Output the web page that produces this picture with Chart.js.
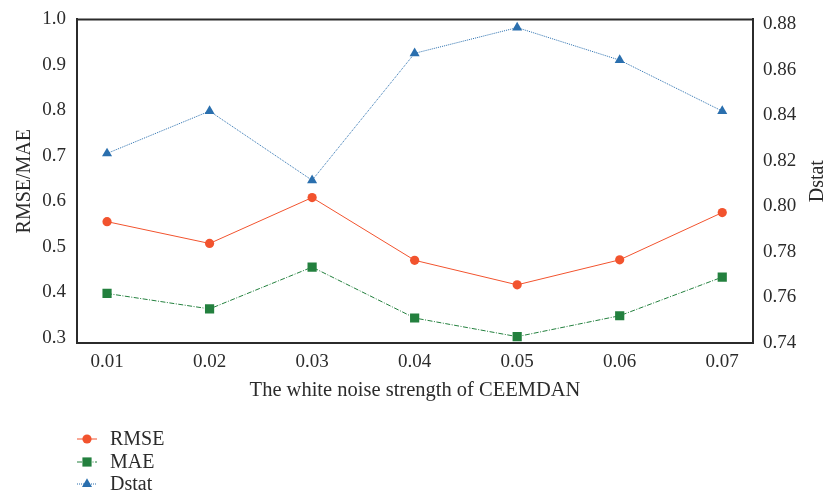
<!DOCTYPE html>
<html>
<head>
<meta charset="utf-8">
<script src="https://cdn.jsdelivr.net/npm/chart.js@4.4.0/dist/chart.umd.min.js"></script>
<style>
  html, body { margin: 0; padding: 0; background: #fff; }
  #wrap { width: 835px; height: 497px; position: relative; }
</style>
</head>
<body>
<div id="wrap"><canvas id="linechart"></canvas></div>
<script>
const noise = [0.01, 0.02, 0.03, 0.04, 0.05, 0.06, 0.07];
const rmse = [0.555, 0.507, 0.608, 0.470, 0.416, 0.471, 0.575];
const mae = [0.397, 0.363, 0.455, 0.343, 0.302, 0.348, 0.433];
const dstat = [0.8233, 0.8419, 0.8115, 0.8673, 0.8786, 0.8643, 0.8419];
const leftTicks = [0.3, 0.4, 0.5, 0.6, 0.7, 0.8, 0.9, 1.0];
const rightTicks = [0.74, 0.76, 0.78, 0.80, 0.82, 0.84, 0.86, 0.88];

const serif = "'Liberation Serif', 'DejaVu Serif', serif";
const ink = "#2b2b2b";

const pts = (ys) => ys.map((y, i) => ({ x: noise[i], y: y }));

// legend drawn as a vertical list under the x title
const stackLegend = {
  id: "stackLegend",
  afterDraw(chart) {
    const c = chart.ctx;
    const rows = [439, 462, 484];
    chart.data.datasets.forEach((ds, i) => {
      const y = rows[i];
      c.save();
      c.strokeStyle = ds.borderColor;
      c.lineWidth = 1;
      c.setLineDash(ds.borderDash || []);
      c.beginPath();
      c.moveTo(77, y);
      c.lineTo(97, y);
      c.stroke();
      c.setLineDash([]);
      c.fillStyle = ds.pointBackgroundColor;
      Chart.helpers.drawPoint(c, {
        pointStyle: ds.pointStyle,
        radius: ds.pointRadius,
        borderWidth: 0,
        rotation: 0,
      }, 87, y);
      c.fillStyle = ink;
      c.font = "20px " + serif;
      c.textBaseline = "middle";
      c.textAlign = "left";
      c.fillText(ds.label, 110, y + 1);
      c.restore();
    });
  },
};

// right axis title reads bottom-to-top like the left one
const rightTitle = {
  id: "rightTitle",
  afterDraw(chart) {
    const a = chart.chartArea;
    const c = chart.ctx;
    c.save();
    c.translate(818, (a.top + a.bottom) / 2);
    c.rotate(-Math.PI / 2);
    c.fillStyle = ink;
    c.font = "20px " + serif;
    c.textAlign = "center";
    c.textBaseline = "middle";
    c.fillText("Dstat", 0, 0);
    c.restore();
  },
};

const topEdge = {
  id: "topEdge",
  afterDraw(chart) {
    const a = chart.chartArea;
    const c = chart.ctx;
    c.save();
    c.strokeStyle = ink;
    c.lineWidth = 2;
    c.beginPath();
    c.moveTo(a.left - 1, a.top);
    c.lineTo(a.right + 1, a.top);
    c.stroke();
    c.restore();
  },
};

new Chart(document.getElementById("linechart"), {
  type: "line",
  data: {
    datasets: [
      {
        label: "RMSE",
        data: pts(rmse),
        yAxisID: "y",
        borderColor: "#f2532e",
        pointBackgroundColor: "#f2532e",
        pointBorderWidth: 0,
        borderWidth: 1,
        pointStyle: "circle",
        pointRadius: 4.6,
      },
      {
        label: "MAE",
        data: pts(mae),
        yAxisID: "y",
        borderColor: "#23803e",
        pointBackgroundColor: "#23803e",
        pointBorderWidth: 0,
        borderWidth: 1,
        borderDash: [5, 1.5, 1, 1.5],
        pointStyle: "rect",
        pointRadius: 6.5,
      },
      {
        label: "Dstat",
        data: pts(dstat),
        yAxisID: "y1",
        borderColor: "#2a6fae",
        pointBackgroundColor: "#2a6fae",
        pointBorderWidth: 0,
        borderWidth: 1,
        borderDash: [1, 1],
        pointStyle: "triangle",
        pointRadius: 5.8,
      },
    ],
  },
  options: {
    responsive: true,
    maintainAspectRatio: false,
    animation: false,
    layout: { padding: { top: 17, bottom: 94, left: 0, right: 0 } },
    plugins: {
      legend: { display: false },
      tooltip: { enabled: false },
    },
    scales: {
      x: {
        type: "linear",
        min: 0.00707,
        max: 0.0730,
        afterBuildTicks: (s) => { s.ticks = noise.map((v) => ({ value: v })); },
        afterFit: (s) => { s.height = 60; },
        grid: { display: false, drawOnChartArea: false, tickLength: 3, color: ink },
        border: { color: ink, width: 2 },
        ticks: {
          color: ink,
          font: { family: serif, size: 19 },
          padding: 5,
          callback: (v) => v.toFixed(2),
        },
        title: {
          display: true,
          text: "The white noise strength of CEEMDAN",
          color: ink,
          font: { family: serif, size: 20.5 },
          padding: 0,
        },
      },
      y: {
        position: "left",
        min: 0.288,
        max: 1.0,
        afterBuildTicks: (s) => { s.ticks = leftTicks.map((v) => ({ value: v })); },
        afterFit: (s) => { s.width = 77; },
        grid: { display: false, drawOnChartArea: false, tickLength: 3, color: ink },
        border: { color: ink, width: 2 },
        ticks: {
          color: ink,
          font: { family: serif, size: 19 },
          padding: 8,
          callback: (v) => v.toFixed(1),
        },
        title: {
          display: true,
          text: "RMSE/MAE",
          color: ink,
          font: { family: serif, size: 20 },
          padding: { top: 13, bottom: 0 },
        },
      },
      y1: {
        position: "right",
        min: 0.74,
        max: 0.8822,
        afterBuildTicks: (s) => { s.ticks = rightTicks.map((v) => ({ value: v })); },
        afterFit: (s) => { s.width = 82; },
        grid: { display: false, drawOnChartArea: false, tickLength: 3, color: ink },
        border: { color: ink, width: 2 },
        ticks: {
          color: ink,
          font: { family: serif, size: 19 },
          padding: 7,
          callback: (v) => v.toFixed(2),
        },
        title: { display: false },
      },
    },
  },
  plugins: [stackLegend, rightTitle, topEdge],
});
</script>
</body>
</html>
